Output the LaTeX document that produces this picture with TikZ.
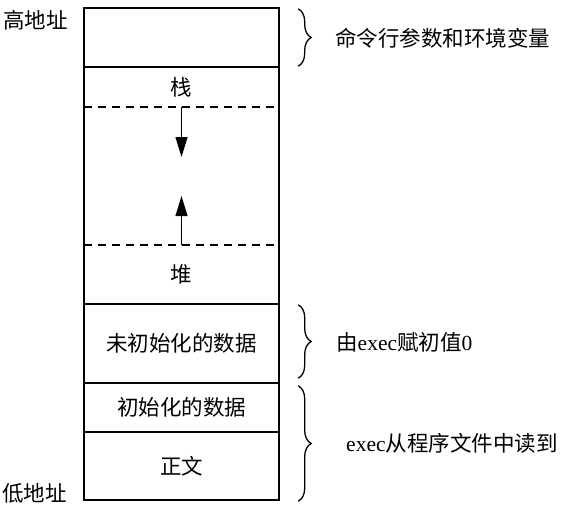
\documentclass[tikz,border=0pt]{standalone}
\usepackage{fontspec}
\setmainfont{Liberation Serif}
\newfontfamily\cjk{Noto Sans CJK SC}
\usetikzlibrary{arrows.meta,decorations.pathreplacing}
\newcommand\fsz{\fontsize{21.5}{25}\selectfont}
\tikzset{
  seg/.style={rectangle, minimum width=195pt, inner sep=0pt, font=\cjk\fsz},
  lbl/.style={inner sep=0pt, anchor=west, font=\fsz},
  cjklbl/.style={lbl, font=\cjk\fsz},
  boxline/.style={line width=1.6pt},
  dashline/.style={line width=1.6pt, dash pattern=on 8pt off 6pt},
  growarrow/.style={line width=1.1pt, -{Triangle[length=20pt,width=12pt]}},
  bracestyle/.style={line width=1.3pt, decorate, decoration={brace, amplitude=13pt, aspect=0.5}}
}
\begin{document}
\begin{tikzpicture}[x=1pt,y=-1pt]
\useasboundingbox (0,0) rectangle (567,519);
% segments
\node[seg, minimum height=59pt] (args) at (181.5,37.5) {};
\node[seg, minimum height=40pt] (stack) at (181.5,87) {栈};
\node[seg, minimum height=138pt] (gap) at (181.5,176) {};
\node[seg, minimum height=59pt] (heap) at (181.5,274.5) {堆};
\node[seg, minimum height=79pt] (bss) at (181.5,343.5) {未初始化的数据};
\node[seg, minimum height=49pt] (data) at (181.5,407.5) {初始化的数据};
\node[seg, minimum height=68pt] (text) at (181.5,466) {正文};
% outline and separators
\draw[boxline] (args.north west) rectangle (text.south east);
\draw[boxline] (args.south west) -- (args.south east);
\draw[dashline] (stack.south west) -- (stack.south east);
\draw[dashline] (heap.north west) -- (heap.north east);
\draw[boxline] (heap.south west) -- (heap.south east);
\draw[boxline] (bss.south west) -- (bss.south east);
\draw[boxline] (data.south west) -- (data.south east);
% growth arrows
\coordinate (downtip) at (181.5,157);
\coordinate (uptip) at (181.5,196);
\draw[growarrow] (stack.south) -- (downtip);
\draw[growarrow] (heap.north) -- (uptip);
% address labels
\node[cjklbl] (high) at (3,20) {高地址};
\node[cjklbl] (low) at (2,493) {低地址};
% braces
\draw[bracestyle] ([xshift=19pt,yshift=-1pt]args.north east) -- ([xshift=19pt,yshift=1pt]args.south east);
\draw[bracestyle] ([xshift=19pt,yshift=-1pt]bss.north east) -- ([xshift=19pt,yshift=5pt]bss.south east);
\draw[bracestyle] ([xshift=19pt,yshift=-3pt]data.north east) -- ([xshift=19pt,yshift=-1pt]text.south east);
% brace labels
\node[cjklbl] (envlbl) at (335,38) {命令行参数和环境变量};
\node[lbl] (bsslbl) at (336,342) {{\cjk 由}exec{\cjk 赋初值}0};
\node[lbl] (execlbl) at (346,443) {exec{\cjk 从程序文件中读到}};
\end{tikzpicture}
\end{document}
